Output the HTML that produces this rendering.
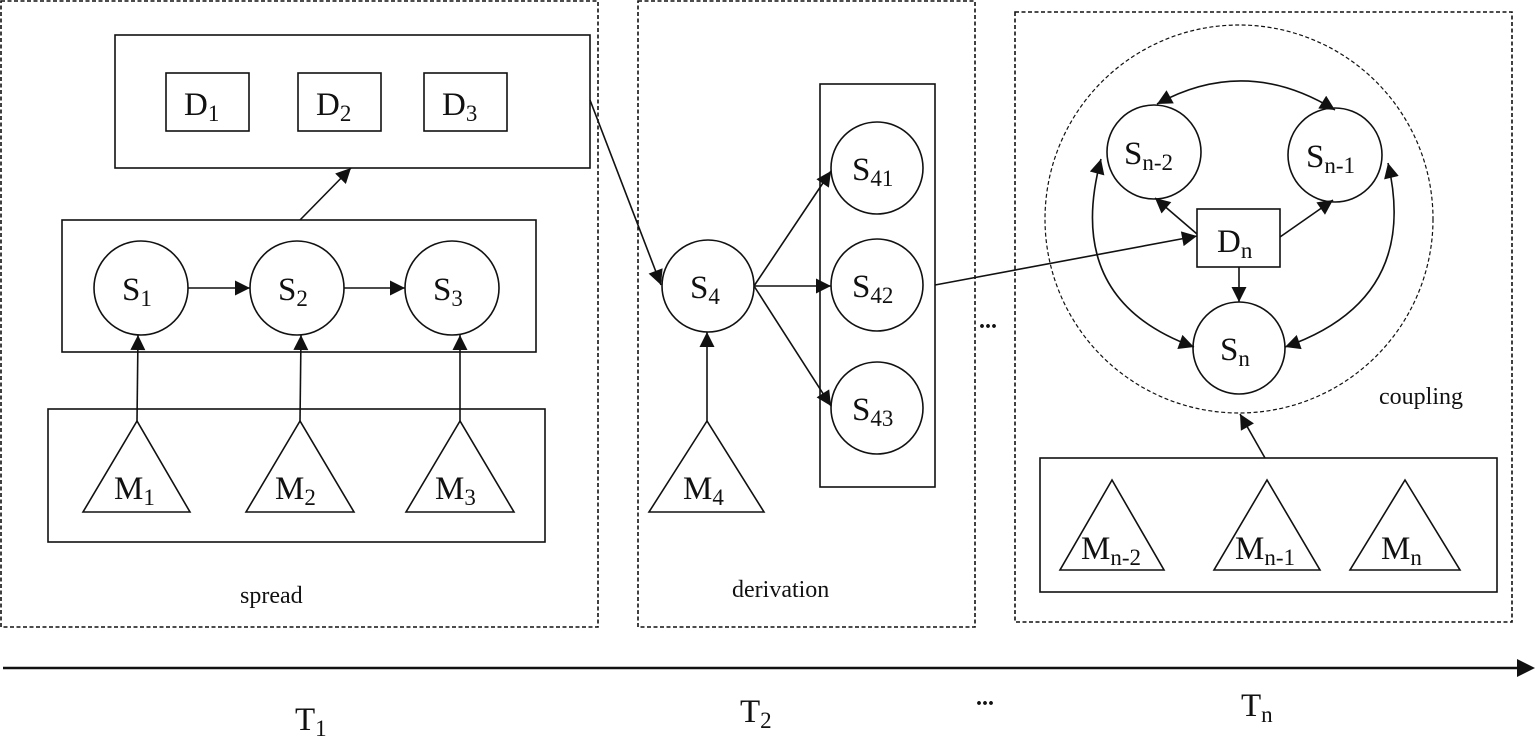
<!DOCTYPE html>
<html><head><meta charset="utf-8"><style>
html,body{margin:0;padding:0;background:#fff;}
svg{display:block;}
text{font-family:"Liberation Serif",serif;fill:#111;}
.b{font-size:33px;}
.s{font-size:23px;}
</style></head><body>
<svg width="1535" height="741" viewBox="0 0 1535 741" xmlns="http://www.w3.org/2000/svg">
<defs>
<marker id="a" viewBox="0 0 10 10" refX="10" refY="5" markerWidth="17" markerHeight="15" markerUnits="userSpaceOnUse" orient="auto-start-reverse"><path d="M0,0 L10,5 L0,10 z" fill="#111"/></marker>
</defs>
<g fill="none" stroke="#111" stroke-width="1.6">
<rect x="1" y="1" width="597" height="626" stroke-dasharray="4,2.5"/>
<rect x="638" y="1" width="337" height="626" stroke-dasharray="4,2.5"/>
<rect x="1015" y="12" width="497" height="610" stroke-dasharray="4,2.5"/>
<rect x="115" y="35" width="475" height="133"/>
<rect x="166" y="73" width="83" height="58"/>
<rect x="298" y="73" width="83" height="58"/>
<rect x="424" y="73" width="83" height="58"/>
<rect x="62" y="220" width="474" height="132"/>
<line x1="300" y1="220" x2="351" y2="168" marker-end="url(#a)"/>
<circle cx="141" cy="288" r="47"/>
<circle cx="297" cy="288" r="47"/>
<circle cx="452" cy="288" r="47"/>
<line x1="188" y1="288" x2="250" y2="288" marker-end="url(#a)"/>
<line x1="344" y1="288" x2="405" y2="288" marker-end="url(#a)"/>
<rect x="48" y="409" width="497" height="133"/>
<path d="M137,421 L83,512 L190,512 Z"/>
<path d="M300,421 L246,512 L354,512 Z"/>
<path d="M460,421 L406,512 L514,512 Z"/>
<line x1="137" y1="421" x2="138" y2="335" marker-end="url(#a)"/>
<line x1="300" y1="421" x2="301" y2="335" marker-end="url(#a)"/>
<line x1="460" y1="421" x2="460" y2="335" marker-end="url(#a)"/>
<line x1="590" y1="100" x2="661" y2="285" marker-end="url(#a)"/>
<circle cx="708" cy="286" r="46"/>
<rect x="820" y="84" width="115" height="403"/>
<circle cx="877" cy="168" r="46"/>
<circle cx="877" cy="285" r="46"/>
<circle cx="877" cy="408" r="46"/>
<line x1="754" y1="286" x2="831" y2="171" marker-end="url(#a)"/>
<line x1="754" y1="286" x2="831" y2="286" marker-end="url(#a)"/>
<line x1="754" y1="286" x2="831" y2="406" marker-end="url(#a)"/>
<path d="M707,421 L649,512 L764,512 Z"/>
<line x1="707" y1="421" x2="707" y2="332" marker-end="url(#a)"/>
<line x1="935" y1="285" x2="1197" y2="236" marker-end="url(#a)"/>
<circle cx="1239" cy="219" r="194" stroke-dasharray="4,2.5" stroke-width="1.2"/>
<circle cx="1154" cy="152" r="47"/>
<circle cx="1335" cy="155" r="47"/>
<circle cx="1239" cy="348" r="46"/>
<rect x="1197" y="209" width="83" height="58"/>
<path d="M1157,104 Q1246,55 1335,110" marker-start="url(#a)" marker-end="url(#a)"/>
<path d="M1101,159 Q1063,300 1194,347" marker-start="url(#a)" marker-end="url(#a)"/>
<path d="M1388,163 Q1420,300 1285,347" marker-start="url(#a)" marker-end="url(#a)"/>
<line x1="1197" y1="234" x2="1155" y2="198" marker-end="url(#a)"/>
<line x1="1280" y1="237" x2="1333" y2="200" marker-end="url(#a)"/>
<line x1="1239" y1="267" x2="1239" y2="302" marker-end="url(#a)"/>
<line x1="1265" y1="458" x2="1240" y2="414" marker-end="url(#a)"/>
<rect x="1040" y="458" width="457" height="134"/>
<path d="M1112,480 L1060,570 L1164,570 Z"/>
<path d="M1267,480 L1214,570 L1320,570 Z"/>
<path d="M1405,480 L1350,570 L1460,570 Z"/>
<line x1="3" y1="668" x2="1520" y2="668" stroke-width="2.4"/>
</g>
<path d="M1517,659 L1535,668 L1517,677 Z" fill="#111"/>
<g class="b">
<text x="184" y="115">D<tspan class="s" dy="6">1</tspan></text>
<text x="316" y="115">D<tspan class="s" dy="6">2</tspan></text>
<text x="442" y="115">D<tspan class="s" dy="6">3</tspan></text>
<text x="122" y="300">S<tspan class="s" dy="6">1</tspan></text>
<text x="278" y="300">S<tspan class="s" dy="6">2</tspan></text>
<text x="433" y="300">S<tspan class="s" dy="6">3</tspan></text>
<text x="114" y="499">M<tspan class="s" dy="6">1</tspan></text>
<text x="275" y="499">M<tspan class="s" dy="6">2</tspan></text>
<text x="435" y="499">M<tspan class="s" dy="6">3</tspan></text>
<text x="690" y="298">S<tspan class="s" dy="6">4</tspan></text>
<text x="683" y="499">M<tspan class="s" dy="6">4</tspan></text>
<text x="852" y="180">S<tspan class="s" dy="6">41</tspan></text>
<text x="852" y="297">S<tspan class="s" dy="6">42</tspan></text>
<text x="852" y="420">S<tspan class="s" dy="6">43</tspan></text>
<text x="1124" y="164">S<tspan class="s" dy="6">n-2</tspan></text>
<text x="1306" y="167">S<tspan class="s" dy="6">n-1</tspan></text>
<text x="1217" y="252">D<tspan class="s" dy="6">n</tspan></text>
<text x="1220" y="360">S<tspan class="s" dy="6">n</tspan></text>
<text x="1081" y="559">M<tspan class="s" dy="6">n-2</tspan></text>
<text x="1235" y="559">M<tspan class="s" dy="6">n-1</tspan></text>
<text x="1381" y="559">M<tspan class="s" dy="6">n</tspan></text>
<text x="295" y="730">T<tspan class="s" dy="6">1</tspan></text>
<text x="740" y="722">T<tspan class="s" dy="6">2</tspan></text>
<text x="1241" y="716">T<tspan class="s" dy="6">n</tspan></text>
</g>
<text x="240" y="603" font-size="24">spread</text>
<text x="732" y="597" font-size="24">derivation</text>
<text x="1379" y="404" font-size="24">coupling</text>
<text x="979" y="328" font-size="24" font-weight="bold">...</text>
<text x="976" y="705" font-size="24" font-weight="bold">...</text>
</svg>
</body></html>
